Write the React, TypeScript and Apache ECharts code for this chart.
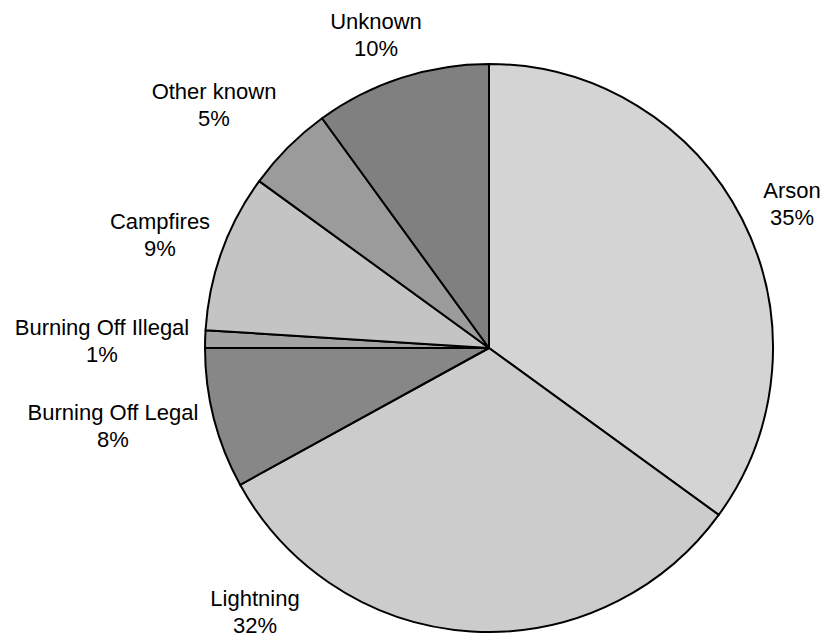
import React, { useEffect, useRef } from "react";
import * as echarts from "echarts";

// Causes of bushfires, share of total (%)
const causes = [
  "Arson",
  "Lightning",
  "Burning Off Legal",
  "Burning Off Illegal",
  "Campfires",
  "Other known",
  "Unknown",
];
const shares = [35, 32, 8, 1, 9, 5, 10];
const sliceColors = ["#d4d4d4", "#cccccc", "#878787", "#a3a3a3", "#c4c4c4", "#9b9b9b", "#808080"];

// Label block centres, placed beside each slice
const labelSpots: [number, number][] = [
  [792, 204],
  [255, 612],
  [113, 426],
  [102, 341],
  [160, 235],
  [214, 105],
  [376, 35],
];

export default function App() {
  const ref = useRef<HTMLDivElement>(null);

  useEffect(() => {
    if (!ref.current) return;
    const chart = echarts.init(ref.current, undefined, { renderer: "svg" });
    chart.setOption({
      animation: false,
      backgroundColor: "#ffffff",
      series: [
        {
          type: "pie",
          center: [489, 348],
          radius: 284,
          startAngle: 90,
          clockwise: true,
          avoidLabelOverlap: false,
          itemStyle: { borderColor: "#000000", borderWidth: 2 },
          emphasis: { disabled: true },
          label: {
            show: true,
            position: "outside",
            formatter: (p: any) => `${p.name}\n${p.value}%`,
            color: "#000000",
            fontFamily: "'Liberation Sans', Arial, sans-serif",
            fontSize: 22,
            lineHeight: 27,
            align: "center",
          },
          labelLine: { show: false },
          labelLayout: (params: any) => {
            const spot = labelSpots[params.dataIndex];
            return { x: spot[0], y: spot[1], align: "center", verticalAlign: "middle" };
          },
          data: causes.map((name, i) => ({
            name,
            value: shares[i],
            itemStyle: { color: sliceColors[i] },
          })),
        },
      ],
    });
    return () => chart.dispose();
  }, []);

  return (
    <div
      ref={ref}
      style={{ position: "fixed", left: 0, top: 0, width: 824, height: 640, background: "#fff" }}
    />
  );
}
